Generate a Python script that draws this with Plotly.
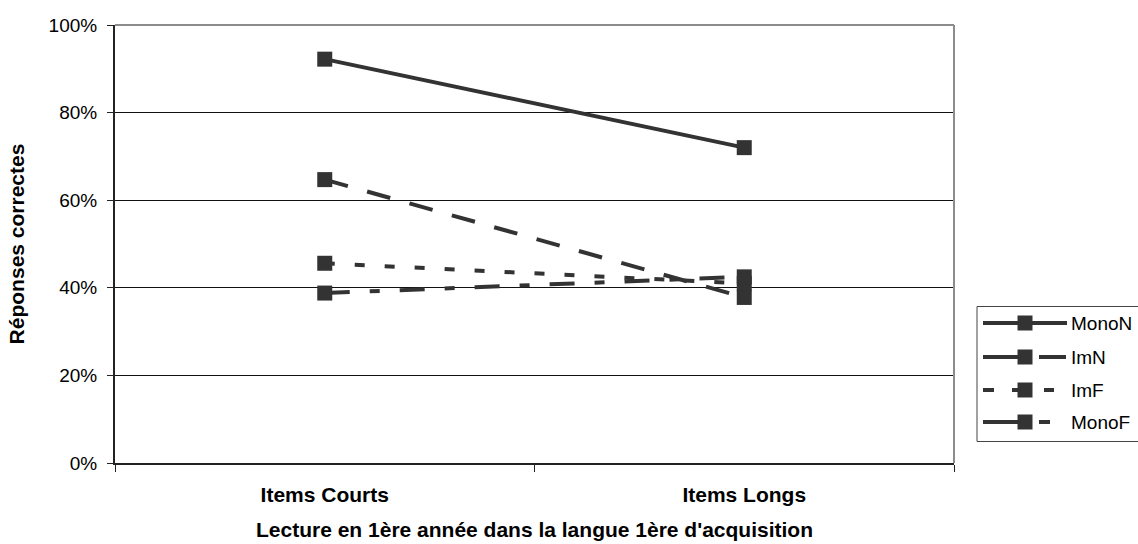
import plotly.graph_objects as go

# Reading scores by item length
categories = ["Items Courts", "Items Longs"]
series_names = ["MonoN", "ImN", "ImF", "MonoF"]
mono_n = [0.922, 0.720]
im_n = [0.647, 0.378]
im_f = [0.456, 0.410]
mono_f = [0.388, 0.425]

series_values = [mono_n, im_n, im_f, mono_f]
dashes = ["solid", "24px,20px", "10px,20px", "25px,20px,10px,20px"]

INK = "#333333"
FONT = "Liberation Sans, Arial, sans-serif"

# plot area in pixels (for placing the hand-built legend in paper coordinates)
L, R, T, B = 115, 954, 25, 463
W, H = 1138, 544


def px_x(px):
    return (px - L) / (R - L)


def px_y(py):
    return (B - py) / (B - T)


fig = go.Figure()
for name, vals, dash in zip(series_names, series_values, dashes):
    fig.add_trace(go.Scatter(
        x=categories, y=vals, name=name, mode="lines+markers",
        line=dict(color=INK, width=4, dash=dash),
        marker=dict(symbol="square", size=15, color=INK, line=dict(width=0)),
        showlegend=False,
    ))

shapes = [
    # gray frame on top and right of plot area
    dict(type="line", xref="paper", yref="paper", x0=0, x1=1, y0=1, y1=1,
         line=dict(color="#8c8c8c", width=2)),
    dict(type="line", xref="paper", yref="paper", x0=1, x1=1, y0=0, y1=1,
         line=dict(color="#8c8c8c", width=2)),
    # legend box
    dict(type="rect", xref="paper", yref="paper",
         x0=px_x(977), x1=px_x(1160), y0=px_y(441.5), y1=px_y(306.5),
         line=dict(color="#444444", width=1), fillcolor="white"),
]

# legend key segments (pixel x-spans) for each series
legend_segments = [
    [(983, 1067)],
    [(983, 1018), (1039, 1066)],
    [(983, 994), (1012, 1018), (1044, 1054)],
    [(983, 1018), (1039, 1050)],
]
annotations = []
row_y = [323, 357, 390, 422]
for name, segs, ry in zip(series_names, legend_segments, row_y):
    for x0, x1 in segs:
        shapes.append(dict(type="line", xref="paper", yref="paper",
                           x0=px_x(x0), x1=px_x(x1), y0=px_y(ry), y1=px_y(ry),
                           line=dict(color=INK, width=4)))
    shapes.append(dict(type="rect", xref="paper", yref="paper",
                       x0=px_x(1017.5), x1=px_x(1032.5),
                       y0=px_y(ry + 7.5), y1=px_y(ry - 7.5),
                       line=dict(width=0), fillcolor=INK))
    annotations.append(dict(xref="paper", yref="paper", x=px_x(1069), y=px_y(ry),
                            text=name, showarrow=False, xanchor="left", yanchor="middle",
                            font=dict(family=FONT, size=19, color="black")))

fig.update_layout(
    width=W, height=H,
    margin=dict(l=L, r=W - R, t=T, b=H - B, pad=0),
    paper_bgcolor="white", plot_bgcolor="white",
    font=dict(family=FONT, size=19, color="black"),
    shapes=shapes, annotations=annotations,
    xaxis=dict(
        type="category", range=[-0.5, 1.5], automargin=False,
        showline=True, linecolor="#222222", linewidth=2,
        ticks="outside", tickson="boundaries", ticklen=7, tickcolor="#222222",
        tickfont=dict(family=FONT, size=21, color="black", weight="bold"),
        ticklabelstandoff=12,
        showgrid=False,
        title=dict(text="Lecture en 1ère année dans la langue 1ère d'acquisition",
                   font=dict(family=FONT, size=21, color="black", weight="bold"),
                   standoff=17),
    ),
    yaxis=dict(
        range=[0, 1], dtick=0.2, tickformat=".0%", automargin=False,
        showline=True, linecolor="#222222", linewidth=2,
        ticks="outside", ticklen=6, tickcolor="#222222",
        ticklabelstandoff=6,
        showgrid=True, gridcolor="#111111", gridwidth=1,
        zeroline=False,
        tickfont=dict(family=FONT, size=19, color="black"),
        title=dict(text="Réponses correctes",
                   font=dict(family=FONT, size=21, color="black", weight="bold"),
                   standoff=18),
    ),
)

fig.write_html("out.html")
